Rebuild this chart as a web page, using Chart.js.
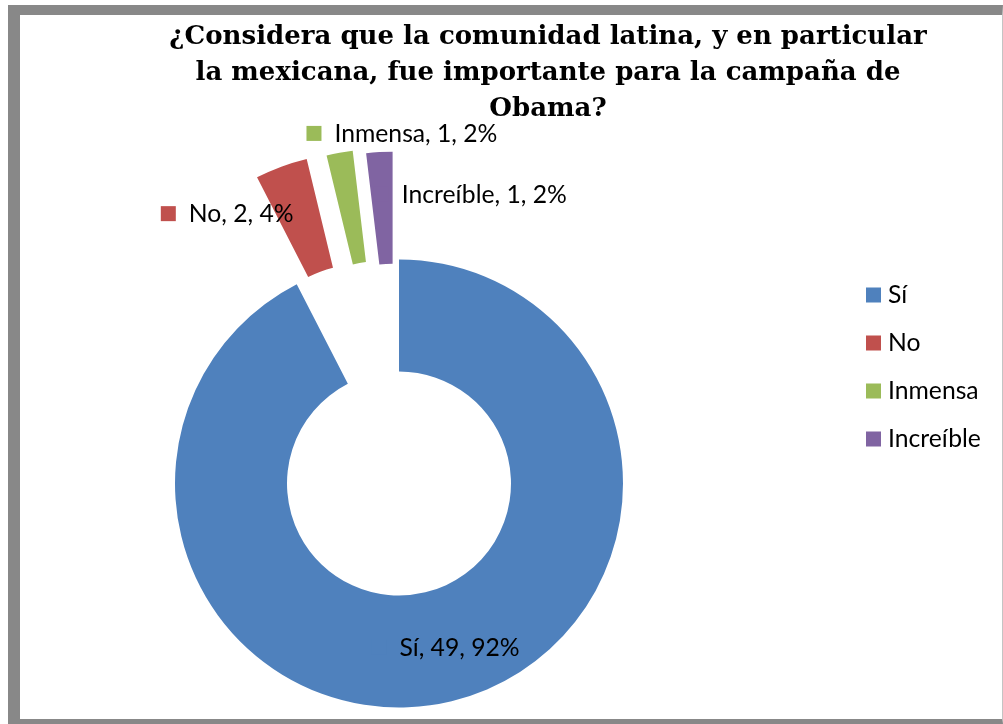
<!DOCTYPE html>
<html>
<head>
<meta charset="utf-8">
<title>Comunidad latina y campaña de Obama</title>
<script src="https://cdn.jsdelivr.net/npm/chart.js@4.4.1/dist/chart.umd.min.js"></script>
<style>
  html, body { margin: 0; padding: 0; background: #fff; }
  #frame {
    position: absolute; left: 8px; top: 5px; width: 995px; height: 719px;
    box-sizing: border-box;
    border-left: 12px solid #888; border-top: 10px solid #888;
    border-bottom: 5px solid #888; border-right: 1px solid #c4c4c4;
  }
  #wrap { position: absolute; left: 0; top: 0; width: 1003px; height: 724px; }
</style>
</head>
<body>
<div id="frame"></div>
<div id="wrap"><canvas id="donut"></canvas></div>
<script>
// data
const categories = ['Sí', 'No', 'Inmensa', 'Increíble'];
const counts = [49, 2, 1, 1];
const titleLines = [
    '¿Considera que la comunidad latina, y en particular',
    'la mexicana, fue importante para la campaña de',
    'Obama?'
];

const colors = ['#4F81BD', '#C0504D', '#9BBB59', '#8064A2'];
const total = counts.reduce((a, b) => a + b, 0);

// doughnut whose points can be pulled out like Excel's "explosion"
const BaseDoughnut = Chart.DoughnutController || Chart.registry.getController('doughnut');
class ExplodedDoughnut extends BaseDoughnut {
    updateElement(element, index, properties, mode) {
        const explode = this.getDataset().explode || [];
        const d = index !== undefined ? (explode[index] || 0) : 0;
        if (d && properties && properties.startAngle !== undefined) {
            const mid = (properties.startAngle + properties.endAngle) / 2;
            properties.x += Math.cos(mid) * d;
            properties.y += Math.sin(mid) * d;
        }
        super.updateElement(element, index, properties, mode);
    }
}
ExplodedDoughnut.id = 'explodedDoughnut';
ExplodedDoughnut.defaults = BaseDoughnut.defaults;
ExplodedDoughnut.overrides = BaseDoughnut.overrides;
Chart.register(ExplodedDoughnut);

// fit a font size so that text gets a given width
function fitSize(ctx, text, width, family, weight) {
    ctx.font = `${weight} 100px ${family}`;
    return 100 * width / ctx.measureText(text).width;
}

const labelFont = 'Lato, "Open Sans", sans-serif';
const titleFont = '"DejaVu Serif", serif';

// label text start / baseline relative to each slice's centre point
const labelShift = [[-39, 9], [-112, 3], [-15, -66], [19, -5]];

const textPlugin = {
    id: 'excelText',
    afterDraw(chart) {
        const ctx = chart.ctx;
        const arcs = chart.getDatasetMeta(0).data;
        ctx.save();
        ctx.fillStyle = '#000';
        ctx.textBaseline = 'alphabetic';

        // title
        const ts = fitSize(ctx, titleLines[0], 758, titleFont, 'bold');
        ctx.font = `bold ${ts}px ${titleFont}`;
        ctx.textAlign = 'center';
        titleLines.forEach((line, i) => ctx.fillText(line, 548, 44 + i * 36));

        // data labels
        const ls = fitSize(ctx, 'Inmensa, 1, 2%', 163, labelFont, 'normal');
        ctx.font = `${ls}px ${labelFont}`;
        ctx.textAlign = 'left';
        arcs.forEach((arc, i) => {
            const c = arc.getCenterPoint();
            const x = c.x + labelShift[i][0];
            const y = c.y + labelShift[i][1];
            const pct = Math.round(counts[i] / total * 100) + '%';
            ctx.fillStyle = colors[i];
            ctx.fillRect(x - 28, y - 16, 15, 15);
            ctx.fillStyle = '#000';
            ctx.fillText(`${categories[i]}, ${counts[i]}, ${pct}`, x, y);
        });

        // legend
        categories.forEach((name, i) => {
            const cy = 295 + i * 48;
            ctx.fillStyle = colors[i];
            ctx.fillRect(866, cy - 7.5, 15, 15);
            ctx.fillStyle = '#000';
            ctx.fillText(name, 888, cy + 8);
        });
        ctx.restore();
    }
};

new Chart(document.getElementById('donut'), {
    type: 'explodedDoughnut',
    data: {
        labels: categories,
        datasets: [{
            data: counts,
            backgroundColor: colors,
            borderWidth: 0,
            explode: [0, 114, 112, 108]
        }]
    },
    options: {
        responsive: true,
        maintainAspectRatio: false,
        animation: false,
        radius: 224,
        cutout: '50%',
        rotation: 0,
        layout: { padding: { left: 0, right: 205, top: 243, bottom: 0 } },
        plugins: {
            legend: { display: false },
            title: { display: false },
            tooltip: { enabled: false }
        }
    },
    plugins: [textPlugin]
});
</script>
</body>
</html>
